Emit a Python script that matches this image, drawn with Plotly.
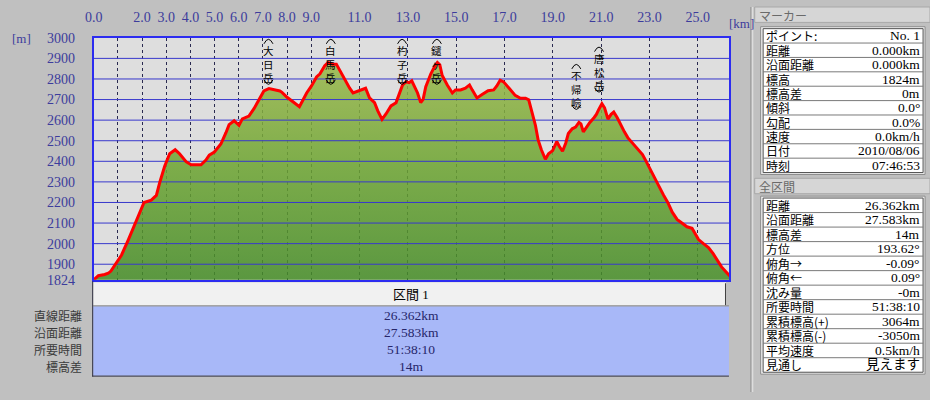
import plotly.graph_objects as go

W, H = 930, 400

# ---------------- data ----------------
distance_km = [0.00, 0.19, 0.45, 0.60, 0.71, 0.88, 1.15, 1.42, 1.70, 1.90, 2.08, 2.38, 2.59, 2.73,
               2.93, 3.14, 3.37, 3.55, 3.82, 4.03, 4.44, 4.64, 4.78, 4.99, 5.26, 5.47, 5.60, 5.81,
               6.01, 6.15, 6.42, 6.63, 6.84, 7.04, 7.25, 7.52, 7.70, 7.79, 8.00, 8.27, 8.51, 8.68,
               8.81, 9.01, 9.22, 9.36, 9.56, 9.70, 9.88, 10.04, 10.18, 10.38, 10.59, 10.73, 10.93,
               11.14, 11.25, 11.41, 11.62, 11.75, 11.93, 12.10, 12.30, 12.51, 12.64, 12.78, 12.92,
               13.05, 13.16, 13.26, 13.40, 13.53, 13.63, 13.74, 13.95, 14.12, 14.22, 14.32, 14.42,
               14.63, 14.84, 14.97, 15.18, 15.38, 15.55, 15.66, 15.86, 16.07, 16.32, 16.55, 16.68,
               16.82, 16.96, 17.19, 17.44, 17.66, 17.87, 18.00, 18.14, 18.28, 18.39, 18.52, 18.69,
               18.82, 18.99, 19.16, 19.27, 19.40, 19.53, 19.64, 19.80, 19.94, 20.08, 20.16, 20.26,
               20.39, 20.53, 20.71, 20.80, 20.90, 21.03, 21.14, 21.28, 21.41, 21.52, 21.66, 21.82,
               21.96, 22.10, 22.30, 22.53, 22.71, 22.85, 23.02, 23.19, 23.35, 23.57, 23.76, 23.94,
               24.14, 24.35, 24.55, 24.76, 24.89, 25.03, 25.23, 25.44, 25.64, 25.81, 25.98, 26.16,
               26.32, 26.362]
elevation_m = [1824, 1844, 1850, 1856, 1867, 1898, 1945, 2016, 2094, 2156, 2200, 2211, 2234, 2297,
               2375, 2437, 2456, 2437, 2398, 2383, 2383, 2406, 2430, 2445, 2484, 2539, 2578, 2597,
               2575, 2606, 2620, 2656, 2703, 2742, 2753, 2747, 2742, 2735, 2711, 2687, 2665, 2703,
               2732, 2766, 2810, 2825, 2864, 2880, 2872, 2872, 2841, 2794, 2755, 2732, 2740,
               2747, 2755, 2708, 2685, 2646, 2604, 2631, 2669, 2685, 2724, 2771, 2786,
               2782, 2791, 2766, 2732, 2685, 2701, 2763, 2825, 2864, 2880, 2869, 2817,
               2771, 2732, 2747, 2747, 2755, 2771, 2747, 2708, 2724, 2743, 2747, 2766,
               2794, 2786, 2755, 2720, 2706, 2706, 2699, 2636, 2574, 2504, 2457, 2410,
               2437, 2452, 2496, 2472, 2449, 2488, 2535, 2558, 2566, 2589, 2582, 2543,
               2566, 2589, 2613, 2628, 2652, 2680, 2660, 2605, 2628, 2639, 2613, 2574,
               2543, 2515, 2488, 2461, 2433, 2402, 2363, 2324, 2285, 2238, 2199, 2153,
               2118, 2098, 2082, 2075, 2051, 2020, 2000, 1981, 1950, 1915, 1887, 1864,
               1841, 1838]

x_tick_values = [0, 1, 2, 3, 4, 5, 6, 7, 8, 9, 11, 13, 15, 17, 19, 21, 23, 25]
x_tick_labels = ["0.0", "", "2.0", "3.0", "4.0", "5.0", "6.0", "7.0", "8.0", "9.0",
                 "11.0", "13.0", "15.0", "17.0", "19.0", "21.0", "23.0", "25.0"]
y_tick_values = [1824, 1900, 2000, 2100, 2200, 2300, 2400, 2500, 2600, 2700, 2800, 2900, 3000]
y_tick_labels = ["1824", "1900", "2000", "2100", "2200", "2300", "2400", "2500", "2600",
                 "2700", "2800", "2900", "3000"]

peak_names = ["大日岳", "白馬岳", "杓子岳", "鑓ヶ岳", "不帰嶮", "唐松岳"]
peak_km = [7.23, 9.81, 12.76, 14.20, 19.97, 20.91]
peak_label_top_m = [3000, 3000, 3000, 3000, 2878, 2962]

section_title = "区間 1"
section_labels = ["直線距離", "沿面距離", "所要時間", "標高差"]
section_values = ["26.362km", "27.583km", "51:38:10", "14m"]

marker_title = "マーカー"
marker_labels = ["ポイント:", "距離", "沿面距離", "標高", "標高差", "傾斜", "勾配", "速度", "日付", "時刻"]
marker_values = ["No. 1", "0.000km", "0.000km", "1824m", "0m", "0.0°", "0.0%", "0.0km/h",
                 "2010/08/06", "07:46:53"]

total_title = "全区間"
total_labels = ["距離", "沿面距離", "標高差", "方位", "俯角→", "俯角←", "沈み量", "所要時間",
                "累積標高(+)", "累積標高(-)", "平均速度", "見通し"]
total_values = ["26.362km", "27.583km", "14m", "193.62°", "-0.09°", "0.09°", "-0m", "51:38:10",
                "3064m", "-3050m", "0.5km/h", "見えます"]

# ---------------- helpers ----------------
def fx(p):
    return p / W


def fy(p):
    return 1 - p / H


JP = "Noto Sans CJK JP"
NUM = "Liberation Serif, Noto Sans CJK JP"
X_MAX = 26.3
PLOT_L, PLOT_R, PLOT_T, PLOT_B = 85.6, 727.3, 32, 283.5

fig = go.Figure()

# filled profile
fig.add_trace(go.Scatter(
    x=distance_km, y=elevation_m, mode="lines", line=dict(width=0),
    fill="tozeroy",
    fillgradient=dict(type="vertical", start=1824, stop=3000,
                      colorscale=[[0, "rgba(66,138,38,0.86)"], [0.5, "rgba(110,165,50,0.86)"],
                                  [1, "rgba(165,188,78,0.86)"]]),
    hoverinfo="skip", showlegend=False))

# horizontal grid lines drawn over the fill
gx, gy = [], []
for v in y_tick_values[1:-1]:
    gx += [0, X_MAX, None]
    gy += [v, v, None]
fig.add_trace(go.Scatter(x=gx, y=gy, mode="lines", line=dict(color="#3838cc", width=1),
                         hoverinfo="skip", showlegend=False))

# red profile line
fig.add_trace(go.Scatter(x=distance_km, y=elevation_m, mode="lines",
                         line=dict(color="#ff0000", width=3), hoverinfo="skip", showlegend=False))

shapes = []
annotations = []


def label(px_x, px_y, text, family, size, color, xanchor="center"):
    annotations.append(dict(x=fx(px_x), y=fy(px_y), xref="paper", yref="paper", text=text,
                            showarrow=False, xanchor=xanchor, yanchor="middle", borderpad=0,
                            font=dict(family=family, size=size, color=color)))


# peak labels (vertical text with bracket arcs)
for name, km, top in zip(peak_names, peak_km, peak_label_top_m):
    annotations.append(dict(x=km, y=top, xref="x", yref="y", text="<br>".join(list(name)),
                            showarrow=False, yanchor="top", xanchor="center", yshift=-4,
                            borderpad=0,
                            font=dict(family=JP, size=10.5, color="#000000")))
    shapes.append(dict(type="path", xref="x", yref="y", xsizemode="pixel", ysizemode="pixel",
                       xanchor=km, yanchor=top, path="M -4.5,-6 Q 0,3 4.5,-6",
                       line=dict(color="#000000", width=1)))
    shapes.append(dict(type="path", xref="x", yref="y", xsizemode="pixel", ysizemode="pixel",
                       xanchor=km, yanchor=top, path="M -4.5,-42 Q 0,-51 4.5,-42",
                       line=dict(color="#000000", width=1)))

# unit labels
label(13, 33, "[m]", NUM, 13, "#3c3c9c")
label(740, 17, "[km]", NUM, 13, "#3c3c9c")

# ---- bottom section table ----
shapes.append(dict(type="rect", xref="paper", yref="paper", x0=fx(85), x1=fx(724),
                   y0=fy(310), y1=fy(286), fillcolor="#f1f1f1", line=dict(width=0), layer="below"))
shapes.append(dict(type="line", xref="paper", yref="paper", x0=fx(723.5), x1=fx(723.5),
                   y0=fy(310), y1=fy(287), line=dict(color="#404040", width=1)))
shapes.append(dict(type="line", xref="paper", yref="paper", x0=fx(85), x1=fx(727),
                   y0=fy(310.5), y1=fy(310.5), line=dict(color="#8a8a8a", width=1)))
shapes.append(dict(type="rect", xref="paper", yref="paper", x0=fx(85), x1=fx(727),
                   y0=fy(383), y1=fy(311), fillcolor="#a8b8f8", line=dict(width=0), layer="below"))
shapes.append(dict(type="line", xref="paper", yref="paper", x0=fx(84.5), x1=fx(84.5),
                   y0=fy(384), y1=fy(285), line=dict(color="#303040", width=1)))
shapes.append(dict(type="line", xref="paper", yref="paper", x0=fx(84), x1=fx(727),
                   y0=fy(383.5), y1=fy(383.5), line=dict(color="#303040", width=1)))

label(406, 299, section_title, NUM, 13, "#000000")
row_y = [320, 338, 356, 373]
for lab, val, ry in zip(section_labels, section_values, row_y):
    label(75, ry, lab, JP, 12, "#3a3a3a", "right")
    label(406, ry, val, NUM, 13.5, "#26266a", "center")

# ---- right panel ----
shapes.append(dict(type="line", xref="paper", yref="paper", x0=fx(749), x1=fx(749),
                   y0=0, y1=1, line=dict(color="#9a9a9a", width=1)))
shapes.append(dict(type="line", xref="paper", yref="paper", x0=fx(751), x1=fx(751),
                   y0=0, y1=1, line=dict(color="#e6e6e6", width=1)))


def panel(title, title_top, labels, values, table_top, row_h):
    shapes.append(dict(type="rect", xref="paper", yref="paper", x0=fx(753), x1=fx(930),
                       y0=fy(title_top + 16), y1=fy(title_top), fillcolor="#d6d6d6",
                       line=dict(color="#a8a8a8", width=1), layer="below"))
    label(756, title_top + 8.5, title, JP, 12, "#6a6a6a", "left")
    n = len(labels)
    bottom = table_top + n * row_h
    shapes.append(dict(type="rect", xref="paper", yref="paper", x0=fx(759), x1=fx(925),
                       y0=fy(bottom + 2), y1=fy(table_top - 2), fillcolor="#ececec",
                       line=dict(color="#8c8c8c", width=1), layer="below"))
    shapes.append(dict(type="rect", xref="paper", yref="paper", x0=fx(761.5), x1=fx(923),
                       y0=fy(bottom), y1=fy(table_top), fillcolor="#ffffff",
                       line=dict(color="#505050", width=1), layer="below"))
    for i in range(1, n):
        yy = table_top + i * row_h
        shapes.append(dict(type="line", xref="paper", yref="paper", x0=fx(761.5), x1=fx(923),
                           y0=fy(yy), y1=fy(yy), line=dict(color="#7a7a7a", width=1)))
    for i, (lab, val) in enumerate(zip(labels, values)):
        cy = table_top + (i + 0.5) * row_h
        label(763, cy, lab, JP, 12, "#000000", "left")
        label(921, cy, val, NUM, 13.5, "#000000", "right")


panel(marker_title, 0, marker_labels, marker_values, 22.5, 14.95)
panel(total_title, 178, total_labels, total_values, 198.5, 15.08)

fig.update_layout(
    width=W, height=H, margin=dict(l=0, r=0, t=0, b=0, pad=0), autosize=False,
    paper_bgcolor="#c0c0c0", plot_bgcolor="#dedede",
    showlegend=False, shapes=shapes, annotations=annotations,
    xaxis=dict(domain=[fx(PLOT_L), fx(PLOT_R)], range=[0, X_MAX], side="top",
               tickvals=x_tick_values, ticktext=x_tick_labels, ticks="",
               ticklabelstandoff=8,
               tickfont=dict(family=NUM, size=14, color="#3c3c9c"),
               showgrid=True, gridcolor="#2a2a50", griddash="dot", gridwidth=1,
               showline=True, linecolor="#2c2cf0", linewidth=2, mirror=True,
               zeroline=False, fixedrange=True),
    yaxis=dict(domain=[fy(PLOT_B), fy(PLOT_T)], range=[1824, 3000],
               tickvals=y_tick_values, ticktext=y_tick_labels, ticks="",
               ticklabelstandoff=14,
               tickfont=dict(family=NUM, size=14, color="#3c3c9c"),
               showgrid=False, showline=True, linecolor="#2c2cf0", linewidth=2, mirror=True,
               zeroline=False, fixedrange=True),
)

fig.write_html(
    "out.html",
    config={"displayModeBar": False, "staticPlot": True},
    post_script="document.body.style.margin='0';document.body.style.overflow='hidden';",
)
